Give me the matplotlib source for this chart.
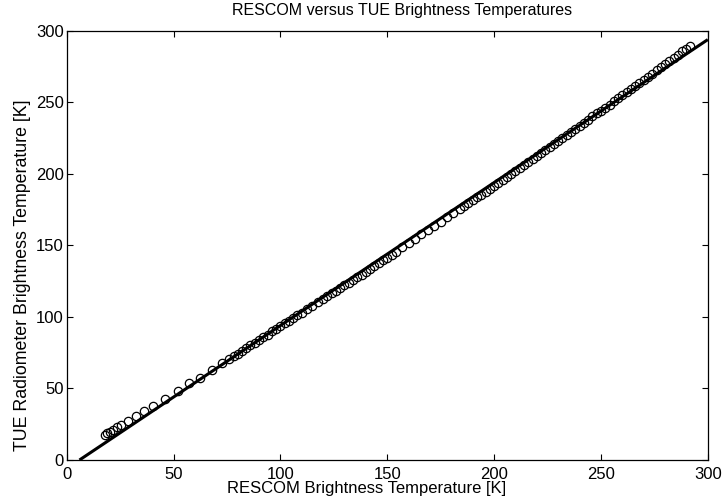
import matplotlib
matplotlib.use("Agg")
import matplotlib.pyplot as plt

# -----------------------------
# Brightness temperature pairs [K]
# -----------------------------
rescom_tb = [17.8, 19.0, 20.3, 21.7, 23.5, 25.6, 28.7, 32.6, 36.1, 40.3,
             45.8, 52.0, 57.1, 62.4, 68.0, 72.9, 76.0, 78.4,
             80, 82, 84, 86, 88, 90, 92, 94, 96, 98,
             100, 102, 104, 106, 108, 110, 112.5, 115, 117.5, 120,
             122, 124, 126, 128, 130, 132, 134, 136, 138, 140,
             142, 144, 146, 148, 150, 152, 154, 157, 160, 163,
             166, 169, 172, 175, 178, 181, 184, 186, 188, 190,
             192, 194, 196, 198, 200, 202, 204, 206, 208, 210,
             212, 214, 216, 218, 220, 222, 224, 226, 228, 230,
             232, 234, 236, 238, 240, 242, 244, 246, 248, 250,
             252, 254, 256, 258, 260, 262, 264, 266, 268, 270,
             272, 274, 276, 278, 280, 282, 284, 286, 288, 290, 291.5]

tue_tb = [17.5, 18.6, 19.8, 21.0, 22.8, 24.5, 27.5, 30.7, 34.0, 37.7,
          42.8, 48.2, 53.6, 57.5, 62.9, 67.6, 70.5, 72.7,
          74.4, 76.3, 78.2, 80.1, 81.9, 83.9, 85.8, 87.7, 89.9, 91.8,
          93.6, 95.5, 97.3, 99.2, 101.0, 102.9, 105.4, 107.9, 110.3, 112.6,
          114.5, 116.4, 118.2, 120.1, 122.0, 123.8, 125.8, 127.7, 129.5, 131.4,
          133.5, 135.4, 137.6, 139.6, 141.5, 143.6, 145.5, 148.6, 151.4, 154.5,
          157.6, 160.4, 163.5, 166.6, 169.5, 172.4, 175.6, 177.5, 179.4, 181.6,
          183.5, 185.4, 187.6, 189.5, 191.8, 193.9, 195.8, 197.9, 200.0, 202.2,
          204.2, 206.3, 208.4, 210.5, 212.6, 214.7, 216.8, 218.9, 221.0, 223.0,
          225.1, 227.3, 229.4, 231.5, 233.6, 235.8, 237.9, 240.1, 242.2, 244.1,
          246.3, 248.4, 250.6, 252.8, 255.0, 257.2, 259.4, 261.6, 263.8, 265.6,
          267.8, 270.0, 272.2, 274.4, 276.6, 278.8, 281.0, 283.2, 285.5, 287.5, 289.0]

# reference line end points
line_x = [6.0, 300.0]
line_y = [0.0, 293.8]

ticks = [0, 50, 100, 150, 200, 250, 300]

plt.rcParams['font.family'] = ['Liberation Sans', 'DejaVu Sans']

fig = plt.figure(figsize=(7.23, 5.0), dpi=100)
ax = fig.add_axes([0.0922, 0.08, 0.979 - 0.0922, 0.9386 - 0.08])

ax.plot(line_x, line_y, color='black', lw=2.2, solid_capstyle='butt')
ax.plot(rescom_tb, tue_tb, 'o', mfc='none', mec='black', ms=6, mew=0.9)

ax.set_xlim(0, 300)
ax.set_ylim(0, 300)
ax.set_xticks(ticks)
ax.set_yticks(ticks)
ax.tick_params(direction='in', top=True, right=True, length=4, width=0.8,
               labelsize=12, pad=2)
ax.tick_params(axis='x', pad=5)
for s in ax.spines.values():
    s.set_linewidth(0.9)

ax.set_xlabel('RESCOM Brightness Temperature [K]', fontsize=12)
ax.xaxis.set_label_coords(0.468, -0.049)
ax.set_ylabel('TUE Radiometer Brightness Temperature [K]', fontsize=12.8)
ax.yaxis.set_label_coords(-0.056, 0.431)
ax.set_title('RESCOM versus TUE Brightness Temperatures', fontsize=11.5,
             x=0.523, pad=11)

fig.savefig('out.png', dpi=100)
